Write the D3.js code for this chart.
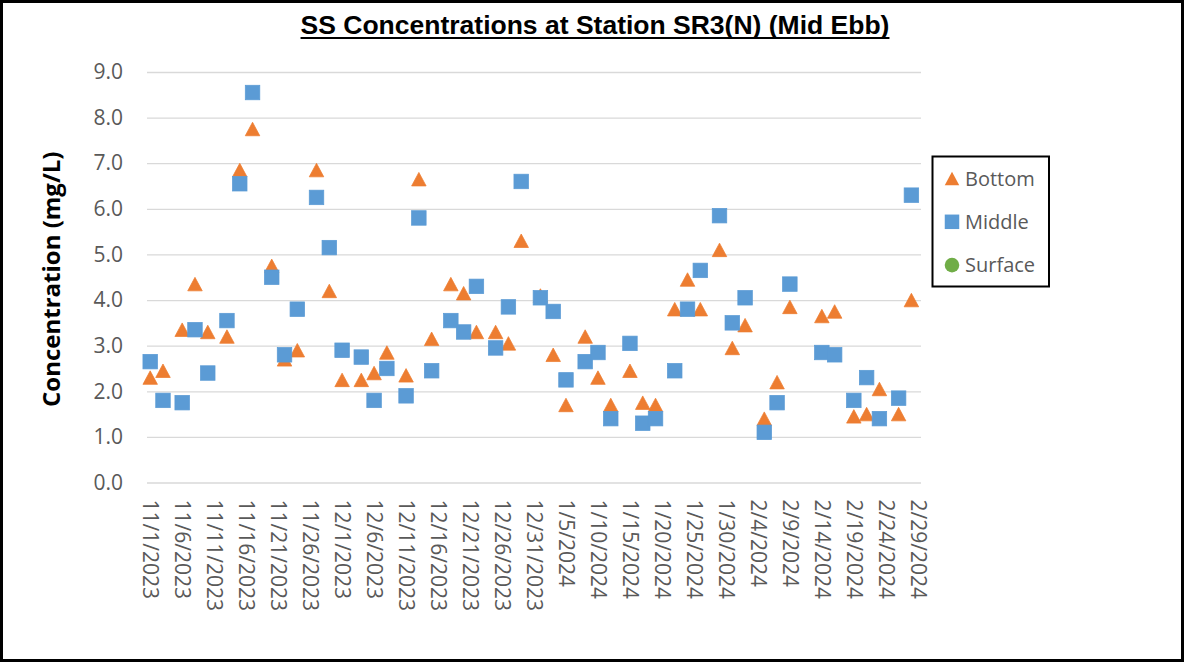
<!DOCTYPE html>
<html>
<head>
<meta charset="utf-8">
<script src="https://cdn.jsdelivr.net/npm/d3@7"></script>
<style>
  html, body { margin: 0; padding: 0; background: #fff; }
  svg { display: block; }
</style>
</head>
<body>
<svg id="chart" width="1184" height="662"></svg>
<script>
// Sampling dates (Mid Ebb, station SR3(N))
const sampleDates = [
  "2023-11-01","2023-11-03","2023-11-06","2023-11-08","2023-11-10","2023-11-13","2023-11-15",
  "2023-11-17","2023-11-20","2023-11-22","2023-11-24","2023-11-27","2023-11-29","2023-12-01",
  "2023-12-04","2023-12-06","2023-12-08","2023-12-11","2023-12-13","2023-12-15","2023-12-18",
  "2023-12-20","2023-12-22","2023-12-25","2023-12-27","2023-12-29","2024-01-01","2024-01-03",
  "2024-01-05","2024-01-08","2024-01-10","2024-01-12","2024-01-15","2024-01-17","2024-01-19",
  "2024-01-22","2024-01-24","2024-01-26","2024-01-29","2024-01-31","2024-02-02","2024-02-05",
  "2024-02-07","2024-02-09","2024-02-14","2024-02-16","2024-02-19","2024-02-21","2024-02-23",
  "2024-02-26","2024-02-28"
];

// SS concentration (mg/L) by depth
const bottomValues = [
  2.30, 2.45, 3.35, 4.35, 3.30, 3.20, 6.85, 7.75, 4.75, 2.70, 2.90, 6.85, 4.20, 2.25,
  2.25, 2.40, 2.85, 2.35, 6.65, 3.15, 4.35, 4.15, 3.30, 3.30, 3.05, 5.30, 4.10, 2.80,
  1.70, 3.20, 2.30, 1.70, 2.45, 1.75, 1.70, 3.80, 4.45, 3.80, 5.10, 2.95, 3.45, 1.40,
  2.20, 3.85, 3.65, 3.75, 1.45, 1.50, 2.05, 1.50, 4.00
];
const middleValues = [
  2.65, 1.80, 1.75, 3.35, 2.40, 3.55, 6.55, 8.55, 4.50, 2.80, 3.80, 6.25, 5.15, 2.90,
  2.75, 1.80, 2.50, 1.90, 5.80, 2.45, 3.55, 3.30, 4.30, 2.95, 3.85, 6.60, 4.05, 3.75,
  2.25, 2.65, 2.85, 1.40, 3.05, 1.30, 1.40, 2.45, 3.80, 4.65, 5.85, 3.50, 4.05, 1.10,
  1.75, 4.35, 2.85, 2.80, 1.80, 2.30, 1.40, 1.85, 6.30
];
const surfaceValues = []; // no surface samples in this period

// Axis settings
const xTickStart = "2023-11-01";
const xTickEnd = "2024-02-29";
const xTickStepDays = 5;
const yTicks = [0, 1, 2, 3, 4, 5, 6, 7, 8, 9];

const seriesNames = ["Bottom", "Middle", "Surface"];
const seriesColors = { Bottom: "#ED7D31", Middle: "#5B9BD5", Surface: "#70AD47" };

const parse = d3.utcParse("%Y-%m-%d");
const fmt = d3.utcFormat("%-m/%-d/%Y");
const HALF_DAY = 12 * 3600 * 1000;
const mid = d => new Date(d.getTime() + HALF_DAY);

const svg = d3.select("#chart");

// outer frame
svg.append("rect")
  .attr("x", 1.5).attr("y", 1.5)
  .attr("width", 1181).attr("height", 659)
  .attr("fill", "#fff").attr("stroke", "#000").attr("stroke-width", 3);

const plot = { left: 147, right: 921, top: 72, bottom: 482.5 };

const x = d3.scaleUtc()
  .domain([parse("2023-11-01"), d3.utcDay.offset(parse(xTickEnd), 1)])
  .range([plot.left, plot.right]);
const y = d3.scaleLinear().domain([0, 9]).range([plot.bottom, plot.top]);

// y axis with gridlines
const yAxis = svg.append("g")
  .attr("transform", `translate(${plot.left},0)`)
  .call(d3.axisLeft(y).tickValues(yTicks).tickFormat(d3.format(".1f"))
    .tickSizeInner(-(plot.right - plot.left)).tickSizeOuter(0).tickPadding(24));
yAxis.select(".domain").remove();
yAxis.selectAll(".tick line").attr("stroke", "#D9D9D9").attr("stroke-width", 1.3);
yAxis.selectAll(".tick text")
  .attr("fill", "#595959")
  .style("font-family", "'Open Sans', sans-serif")
  .style("font-size", "21px");

// x axis: date labels every 5 days, rotated
const tickDates = d3.utcDay.range(parse(xTickStart), d3.utcDay.offset(parse(xTickEnd), 1))
  .filter((d, i) => i % xTickStepDays === 0);
const xAxis = svg.append("g")
  .attr("transform", `translate(0,${plot.bottom})`)
  .call(d3.axisBottom(x).tickValues(tickDates.map(mid))
    .tickFormat(d => fmt(new Date(d.getTime() - HALF_DAY))).tickSize(0));
xAxis.select(".domain").remove();
xAxis.selectAll(".tick text")
  .attr("transform", "rotate(90)")
  .attr("x", 17).attr("y", 0).attr("dy", "0.36em")
  .attr("text-anchor", "start")
  .attr("fill", "#595959")
  .style("font-family", "'Open Sans', sans-serif")
  .style("font-size", "21px");

// marker shapes
const TRI_W = 14.5, TRI_H = 13.5, SQ = 14.5;
const triPath = `M0,${-TRI_H / 2}L${TRI_W / 2},${TRI_H / 2}L${-TRI_W / 2},${TRI_H / 2}Z`;

function drawSeries(values, name) {
  const pts = values.map((v, i) => ({ date: parse(sampleDates[i]), value: v }));
  const g = svg.append("g").attr("class", "series-" + name);
  const col = seriesColors[name];
  if (name === "Bottom") {
    g.selectAll("path").data(pts).join("path")
      .attr("d", triPath)
      .attr("transform", d => `translate(${x(mid(d.date))},${y(d.value)})`)
      .attr("fill", col).attr("stroke", col).attr("stroke-width", 0.75);
  } else if (name === "Middle") {
    g.selectAll("rect").data(pts).join("rect")
      .attr("x", d => x(mid(d.date)) - SQ / 2)
      .attr("y", d => y(d.value) - SQ / 2)
      .attr("width", SQ).attr("height", SQ)
      .attr("fill", col).attr("stroke", col).attr("stroke-width", 0.75);
  } else {
    g.selectAll("circle").data(pts).join("circle")
      .attr("cx", d => x(mid(d.date))).attr("cy", d => y(d.value)).attr("r", 7)
      .attr("fill", col);
  }
}
drawSeries(bottomValues, "Bottom");
drawSeries(middleValues, "Middle");
drawSeries(surfaceValues, "Surface");

// y axis title
svg.append("text")
  .attr("transform", `translate(60,${(plot.top + plot.bottom) / 2 + 2}) rotate(-90)`)
  .attr("text-anchor", "middle")
  .style("font-family", "'Open Sans', sans-serif")
  .style("font-weight", "bold")
  .style("font-size", "24px")
  .attr("fill", "#000")
  .text("Concentration (mg/L)");

// chart title with underline
const title = svg.append("text")
  .attr("x", 595).attr("y", 34)
  .attr("text-anchor", "middle")
  .style("font-family", "'Liberation Sans', Arial, sans-serif")
  .style("font-weight", "bold")
  .style("font-size", "26.5px")
  .attr("fill", "#000")
  .text("SS Concentrations at Station SR3(N) (Mid Ebb)");
const tw = title.node().getComputedTextLength();
svg.append("line")
  .attr("x1", 595 - tw / 2).attr("x2", 595 + tw / 2)
  .attr("y1", 38).attr("y2", 38)
  .attr("stroke", "#000").attr("stroke-width", 2);

// legend
const legend = svg.append("g");
legend.append("rect")
  .attr("x", 932.5).attr("y", 156.5).attr("width", 116.5).attr("height", 130)
  .attr("fill", "#fff").attr("stroke", "#000").attr("stroke-width", 2);
seriesNames.forEach((name, i) => {
  const cy = 178.5 + i * 43.3;
  const col = seriesColors[name];
  if (name === "Bottom") {
    legend.append("path").attr("d", triPath).attr("transform", `translate(952,${cy})`)
      .attr("fill", col);
  } else if (name === "Middle") {
    legend.append("rect").attr("x", 952 - SQ / 2).attr("y", cy - SQ / 2)
      .attr("width", SQ).attr("height", SQ).attr("fill", col);
  } else {
    legend.append("circle").attr("cx", 952).attr("cy", cy).attr("r", 7.3).attr("fill", col);
  }
  legend.append("text")
    .attr("x", 965).attr("y", cy).attr("dy", "0.36em")
    .attr("fill", "#595959")
    .style("font-family", "'Open Sans', sans-serif")
    .style("font-size", "20px")
    .text(name);
});
</script>
</body>
</html>
